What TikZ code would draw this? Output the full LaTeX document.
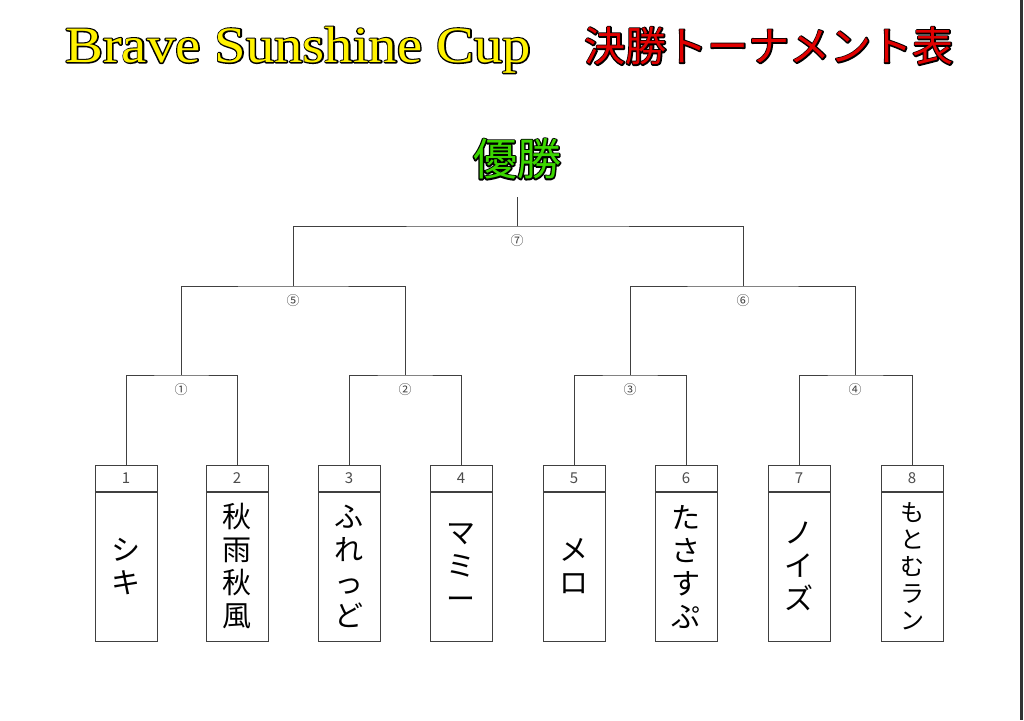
\documentclass[tikz,border=0pt]{standalone}
\usepackage{fontspec}
\setmainfont{Liberation Serif}
\newfontfamily\jpfont{Noto Sans CJK JP}
\definecolor{wingreen}{RGB}{60,215,0}
\definecolor{titlered}{RGB}{225,0,0}
% outlined text: a black stroked copy under the coloured one
\newcommand{\outl}[2]{\rlap{\color{black}\special{pdf:literal direct 2 Tr 1 j #1 w}#2\special{pdf:literal direct 0 Tr}}#2}

\begin{document}
\begin{tikzpicture}[
		x=1pt, y=-1pt,
		ln/.style = {draw=black!75, line width=1pt},
		hd/.style = {rectangle, draw=black!75, line width=1pt, minimum width=62, minimum height=26, inner sep=0, text=black!70, font=\jpfont\fontsize{15}{15}\selectfont},
		pname/.style = {rectangle, draw=black!75, line width=1pt, anchor=north, minimum width=62, minimum height=149, inner sep=0, align=center, font=\jpfont\fontsize{29}{33}\selectfont},
		rd/.style = {inner sep=0, below=8pt, text=black!75, font=\jpfont\fontsize{13}{13}\selectfont},
		]
		
		\useasboundingbox[fill=white] (0, 0) rectangle (1024, 720);
		
		%Titles
		\node[text=yellow, font=\fontsize{51}{51}\selectfont]	(cup)	at	(298, 50)	{\scalebox{1.11}[1]{\outl{2.6}{Brave Sunshine Cup}}};
		\node[text=titlered, font=\jpfont\fontsize{41}{41}\selectfont]	(kessho)	at	(769, 46)	{\outl{2.6}{決勝トーナメント表}};
		\node[text=wingreen, font=\jpfont\fontsize{44}{44}\selectfont]	(win)	at	(517, 159)	{\outl{2.8}{優勝}};
		
		%Headers
		\node[hd]	(h1)	at	(126, 478)	{1};
		\node[hd]	(h2)	at	(237, 478)	{2};
		\node[hd]	(h3)	at	(349, 478)	{3};
		\node[hd]	(h4)	at	(461, 478)	{4};
		\node[hd]	(h5)	at	(574, 478)	{5};
		\node[hd]	(h6)	at	(686, 478)	{6};
		\node[hd]	(h7)	at	(799, 478)	{7};
		\node[hd]	(h8)	at	(912, 478)	{8};
		
		%Players
		\node[pname]	(p1)	at	(h1.south)	{シ\\キ};
		\node[pname]	(p2)	at	(h2.south)	{秋\\雨\\秋\\風};
		\node[pname]	(p3)	at	(h3.south)	{ふ\\れ\\っ\\ど};
		\node[pname]	(p4)	at	(h4.south)	{マ\\ミ\\ー};
		\node[pname]	(p5)	at	(h5.south)	{メ\\ロ};
		\node[pname]	(p6)	at	(h6.south)	{た\\さ\\す\\ぷ};
		\node[pname]	(p7)	at	(h7.south)	{ノ\\イ\\ズ};
		\node[pname, font=\jpfont\fontsize{24}{27}\selectfont]	(p8)	at	(h8.south)	{も\\と\\む\\ラ\\ン};
		
		%Matches
		\coordinate	(m1)	at	(181, 375);
		\coordinate	(m2)	at	(405, 375);
		\coordinate	(m3)	at	(630, 375);
		\coordinate	(m4)	at	(855, 375);
		\coordinate	(m5)	at	(293, 286);
		\coordinate	(m6)	at	(743, 286);
		\coordinate	(m7)	at	(517, 226);
		\coordinate	(top)	at	(517, 197);
		
		\node[rd]	at	(m1)	{①};
		\node[rd]	at	(m2)	{②};
		\node[rd]	at	(m3)	{③};
		\node[rd]	at	(m4)	{④};
		\node[rd]	at	(m5)	{⑤};
		\node[rd]	at	(m6)	{⑥};
		\node[rd]	at	(m7)	{⑦};
		
		%Lines
		\draw[ln]	(h1.north)	|-	(m1)	-|	(h2.north);
		\draw[ln]	(h3.north)	|-	(m2)	-|	(h4.north);
		\draw[ln]	(h5.north)	|-	(m3)	-|	(h6.north);
		\draw[ln]	(h7.north)	|-	(m4)	-|	(h8.north);
		\draw[ln]	(m1)	|-	(m5)	-|	(m2);
		\draw[ln]	(m3)	|-	(m6)	-|	(m4);
		\draw[ln]	(m5)	|-	(m7)	-|	(m6);
		\draw[ln]	(m7)	to	(top);
		
		%Edge
		\draw[line width=3pt, black!80]	(1021, 0)	--	(1021, 720);
	\end{tikzpicture}
\end{document}
